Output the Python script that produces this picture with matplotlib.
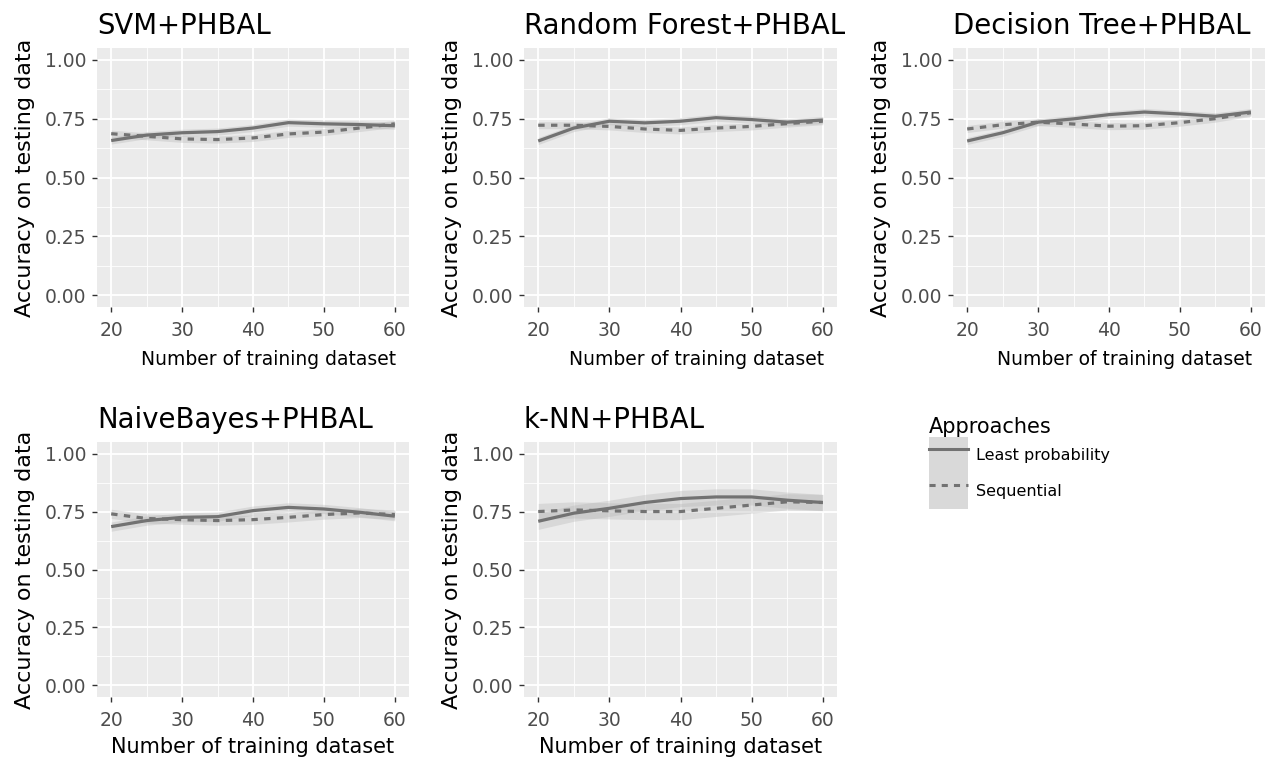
# Accuracy vs training set size for five classifiers combined with PHBAL
import matplotlib
matplotlib.use("Agg")
import matplotlib.pyplot as plt
from matplotlib.lines import Line2D
from matplotlib.patches import Patch
from matplotlib.ticker import MultipleLocator

plt.rcParams['font.family'] = ['DejaVu Sans']

# --- data ---
train_size = [20, 25, 30, 35, 40, 45, 50, 55, 60]

titles = ["SVM+PHBAL", "Random Forest+PHBAL", "Decision Tree+PHBAL",
          "NaiveBayes+PHBAL", "k-NN+PHBAL"]

svm_least = [0.657, 0.680, 0.690, 0.695, 0.710, 0.733, 0.728, 0.725, 0.720]
svm_seq = [0.686, 0.675, 0.664, 0.661, 0.668, 0.685, 0.693, 0.710, 0.728]

rf_least = [0.655, 0.710, 0.739, 0.732, 0.739, 0.754, 0.746, 0.735, 0.744]
rf_seq = [0.722, 0.722, 0.717, 0.706, 0.700, 0.710, 0.717, 0.729, 0.739]

dt_least = [0.655, 0.690, 0.735, 0.749, 0.767, 0.778, 0.770, 0.760, 0.778]
dt_seq = [0.706, 0.724, 0.735, 0.727, 0.718, 0.720, 0.733, 0.750, 0.775]

nb_least = [0.685, 0.711, 0.725, 0.728, 0.754, 0.768, 0.761, 0.747, 0.730]
nb_seq = [0.740, 0.720, 0.715, 0.711, 0.715, 0.725, 0.737, 0.744, 0.737]

knn_least = [0.708, 0.743, 0.764, 0.789, 0.806, 0.813, 0.813, 0.799, 0.789]
knn_seq = [0.750, 0.757, 0.753, 0.750, 0.750, 0.764, 0.778, 0.792, 0.789]

# half-width of the confidence ribbon in each panel
band = [0.015, 0.015, 0.015, 0.02, 0.035]

least_all = [svm_least, rf_least, dt_least, nb_least, knn_least]
seq_all = [svm_seq, rf_seq, dt_seq, nb_seq, knn_seq]

series_names = ["Least probability", "Sequential"]

# --- layout ---
W, H = 1268, 764
fig = plt.figure(figsize=(W / 100, H / 100), dpi=100)

panel_boxes = [  # left, top, right, bottom in pixels
    (97, 48, 409, 307),
    (524, 48, 837, 307),
    (953, 48, 1265, 307),
    (97, 442, 409, 697),
    (524, 442, 837, 697),
]

line_col = '#727272'
band_col = '#b5b5b5'

for i, (l, t, r, b) in enumerate(panel_boxes):
    ax = fig.add_axes([l / W, 1 - b / H, (r - l) / W, (b - t) / H])
    ax.set_facecolor('#EBEBEB')
    for s in ax.spines.values():
        s.set_visible(False)

    ax.set_xlim(18, 62)
    ax.set_ylim(-0.05, 1.05)
    ax.xaxis.set_major_locator(MultipleLocator(10))
    ax.xaxis.set_minor_locator(MultipleLocator(5))
    ax.yaxis.set_minor_locator(MultipleLocator(0.125))
    ax.set_yticks([0, 0.25, 0.5, 0.75, 1.0])
    ax.set_yticklabels(["0.00", "0.25", "0.50", "0.75", "1.00"])
    ax.grid(which='major', color='white', linewidth=1.3)
    ax.grid(which='minor', color='white', linewidth=0.6)
    ax.set_axisbelow(True)
    ax.tick_params(which='major', length=3.8, width=1, color='#333333',
                   labelcolor='#4D4D4D', labelsize=13.5, pad=4)
    ax.tick_params(axis='x', which='major', pad=6)
    ax.tick_params(which='minor', length=0)

    least = least_all[i]
    seq = seq_all[i]
    hw = band[i]
    ax.fill_between(train_size, [v - hw for v in least], [v + hw for v in least],
                    color=band_col, alpha=0.35, linewidth=0)
    ax.fill_between(train_size, [v - hw for v in seq], [v + hw for v in seq],
                    color=band_col, alpha=0.35, linewidth=0)
    ax.plot(train_size, least, color=line_col, linewidth=2.3, solid_capstyle='butt')
    ax.plot(train_size, seq, color=line_col, linewidth=2.3, linestyle=(0, (2, 2)))

    ax.set_title(titles[i], loc='left', fontsize=19.8, pad=10, color='black')
    ax.set_ylabel("Accuracy on testing data", fontsize=16, labelpad=7)
    if i < 3:
        ax.set_xlabel("Number of training dataset", fontsize=13.5)
        ax.xaxis.set_label_coords(0.55, -0.165)
    else:
        ax.set_xlabel("Number of training dataset", fontsize=15)
        ax.xaxis.set_label_coords(0.5, -0.155)

# --- legend ---
handles = [
    (Patch(facecolor='#D9D9D9', edgecolor='none'),
     Line2D([], [], color=line_col, linewidth=2.2)),
    (Patch(facecolor='#D9D9D9', edgecolor='none'),
     Line2D([], [], color=line_col, linewidth=2.2, linestyle=(0, (2, 2)))),
]
leg = fig.legend(handles, series_names, title="Approaches",
                 loc='upper left', bbox_to_anchor=(918 / W, 1 - 406 / H),
                 frameon=False, fontsize=11.5, title_fontsize=15,
                 handlelength=2.45, handleheight=3.1, labelspacing=0.0,
                 handletextpad=0.5, alignment='left', borderpad=0.2)

fig.savefig("out.png", dpi=100)
